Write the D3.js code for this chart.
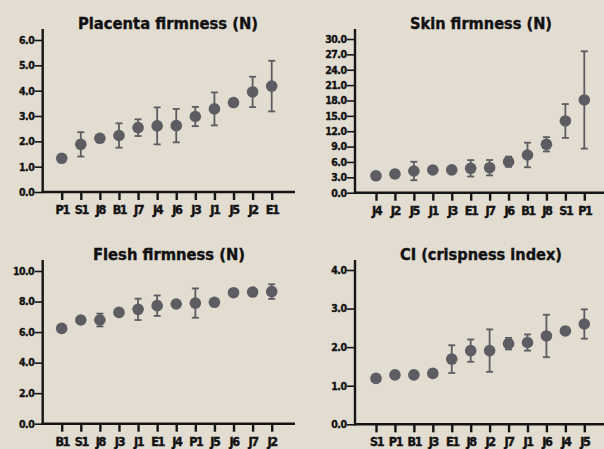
<!DOCTYPE html>
<html>
<head>
<meta charset="utf-8">
<script src="https://cdn.jsdelivr.net/npm/d3@7/dist/d3.min.js"></script>
<style>
  html, body { margin: 0; padding: 0; background: #e2dcd1; }
  svg { display: block; }
  text { font-family: "DejaVu Sans Condensed", "DejaVu Sans", sans-serif; font-weight: bold; fill: #111; }
</style>
</head>
<body>
<svg id="chart" width="604" height="449"></svg>
<script>
// Placenta firmness (N)
const placentaCats = ["P1", "S1", "J8", "B1", "J7", "J4", "J6", "J3", "J1", "J5", "J2", "E1"];
const placentaMean = [1.33, 1.88, 2.12, 2.23, 2.54, 2.61, 2.62, 2.98, 3.28, 3.53, 3.95, 4.18];
const placentaSD   = [0.08, 0.48, 0.12, 0.48, 0.33, 0.73, 0.66, 0.38, 0.65, 0.12, 0.60, 1.00];
const placentaTicks = [0, 1, 2, 3, 4, 5, 6];

// Skin firmness (N)
const skinCats = ["J4", "J2", "J5", "J1", "J3", "E1", "J7", "J6", "B1", "J8", "S1", "P1"];
const skinMean = [3.3, 3.65, 4.24, 4.43, 4.45, 4.76, 4.88, 6.05, 7.36, 9.45, 14.0, 18.1];
const skinSD   = [0.6, 0.7, 1.8, 0.5, 0.5, 1.6, 1.5, 1.0, 2.4, 1.4, 3.3, 9.5];
const skinTicks = [0, 3, 6, 9, 12, 15, 18, 21, 24, 27, 30];

// Flesh firmness (N)
const fleshCats = ["B1", "S1", "J8", "J3", "J1", "E1", "J4", "P1", "J5", "J6", "J7", "J2"];
const fleshMean = [6.24, 6.79, 6.79, 7.29, 7.49, 7.73, 7.84, 7.90, 7.95, 8.58, 8.62, 8.65];
const fleshSD   = [0.10, 0.20, 0.42, 0.10, 0.70, 0.67, 0.10, 0.96, 0.10, 0.20, 0.20, 0.48];
const fleshTicks = [0, 2, 4, 6, 8, 10];

// CI (crispness index)
const ciCats = ["S1", "P1", "B1", "J3", "E1", "J8", "J2", "J7", "J1", "J6", "J4", "J5"];
const ciMean = [1.19, 1.28, 1.28, 1.32, 1.69, 1.91, 1.91, 2.09, 2.12, 2.29, 2.42, 2.60];
const ciSD   = [0.03, 0.05, 0.05, 0.05, 0.36, 0.29, 0.55, 0.15, 0.21, 0.55, 0.05, 0.38];
const ciTicks = [0, 1, 2, 3, 4];

const panels = [
  { title: "Placenta firmness (N)", cats: placentaCats, mean: placentaMean, sd: placentaSD, ticks: placentaTicks,
    axisX: 42.7, y0: 192, yTop: 40, yMax: 6, axisTop: 29, xFirst: 61.7, xLast: 271.7, xEnd: 295, titleX: 168, titleY: 29, titleW: 180 },
  { title: "Skin firmness (N)", cats: skinCats, mean: skinMean, sd: skinSD, ticks: skinTicks,
    axisX: 355, y0: 192.7, yTop: 39, yMax: 30, axisTop: 29, xFirst: 376, xLast: 584.3, xEnd: 604, titleX: 481, titleY: 29, titleW: 142 },
  { title: "Flesh firmness (N)", cats: fleshCats, mean: fleshMean, sd: fleshSD, ticks: fleshTicks,
    axisX: 42.7, y0: 423.7, yTop: 271, yMax: 10, axisTop: 260, xFirst: 61.7, xLast: 271.7, xEnd: 295, titleX: 169, titleY: 260, titleW: 152 },
  { title: "CI (crispness index)", cats: ciCats, mean: ciMean, sd: ciSD, ticks: ciTicks,
    axisX: 355, y0: 424.3, yTop: 270, yMax: 4, axisTop: 260, xFirst: 376, xLast: 584.3, xEnd: 604, titleX: 481, titleY: 260, titleW: 162 }
];

const svg = d3.select("#chart");
const fmt = d3.format(".1f");
const dotColor = "#5c5c62";
const ink = "#111";

panels.forEach(p => {
  const g = svg.append("g");
  const x = d3.scalePoint().domain(p.cats).range([p.xFirst, p.xLast]);
  const y = d3.scaleLinear().domain([0, p.yMax]).range([p.y0, p.yTop]);

  // title
  g.append("text")
    .attr("x", p.titleX).attr("y", p.titleY)
    .attr("text-anchor", "middle")
    .attr("font-size", 15.5)
    .attr("stroke", ink).attr("stroke-width", 0.35)
    .attr("textLength", p.titleW).attr("lengthAdjust", "spacingAndGlyphs")
    .text(p.title);

  // y axis
  const yAxis = g.append("g")
    .attr("transform", `translate(${p.axisX},0)`)
    .call(d3.axisLeft(y).tickValues(p.ticks).tickFormat(fmt).tickSize(8).tickPadding(0.5));
  yAxis.select(".domain").remove();
  yAxis.append("line")
    .attr("x1", 0).attr("x2", 0)
    .attr("y1", p.axisTop).attr("y2", p.y0 + 1)
    .attr("stroke", "#151515").attr("stroke-width", 2.4);
  yAxis.selectAll(".tick line").attr("stroke", "#151515").attr("stroke-width", 1.6);
  yAxis.selectAll(".tick text")
    .attr("font-size", 10.5).attr("font-weight", "bold")
    .attr("font-family", "'DejaVu Sans Condensed', 'DejaVu Sans', sans-serif")
    .attr("letter-spacing", -0.5)
    .attr("stroke", ink).attr("stroke-width", 0.35)
    .attr("fill", ink);

  // x axis
  const xAxis = g.append("g")
    .attr("transform", `translate(0,${p.y0})`)
    .call(d3.axisBottom(x).tickSize(8).tickPadding(5));
  xAxis.select(".domain").remove();
  xAxis.append("line")
    .attr("x1", p.axisX - 1).attr("x2", p.xEnd)
    .attr("y1", 0).attr("y2", 0)
    .attr("stroke", "#151515").attr("stroke-width", 2.4);
  xAxis.selectAll(".tick line").attr("stroke", "#151515").attr("stroke-width", 2.4);
  xAxis.selectAll(".tick text")
    .attr("font-size", 12.5).attr("font-weight", "bold")
    .attr("font-family", "'DejaVu Sans Condensed', 'DejaVu Sans', sans-serif")
    .attr("letter-spacing", -1.4)
    .attr("stroke", ink).attr("stroke-width", 0.4)
    .attr("fill", ink);

  // error bars (mean ± SD)
  const rows = p.cats.map((c, i) => ({ c, m: p.mean[i], s: p.sd[i] }));
  const eb = g.append("g").attr("stroke", dotColor).attr("stroke-width", 1.8);
  rows.forEach(d => {
    const cx = x(d.c), yHi = y(d.m + d.s), yLo = y(Math.max(0, d.m - d.s));
    eb.append("line").attr("x1", cx).attr("x2", cx).attr("y1", yHi).attr("y2", yLo);
    eb.append("line").attr("x1", cx - 3.5).attr("x2", cx + 3.5).attr("y1", yHi).attr("y2", yHi);
    eb.append("line").attr("x1", cx - 3.5).attr("x2", cx + 3.5).attr("y1", yLo).attr("y2", yLo);
  });

  // means
  g.append("g").selectAll("circle").data(rows).join("circle")
    .attr("cx", d => x(d.c)).attr("cy", d => y(d.m))
    .attr("r", 5.8).attr("fill", dotColor);
});
</script>
</body>
</html>
